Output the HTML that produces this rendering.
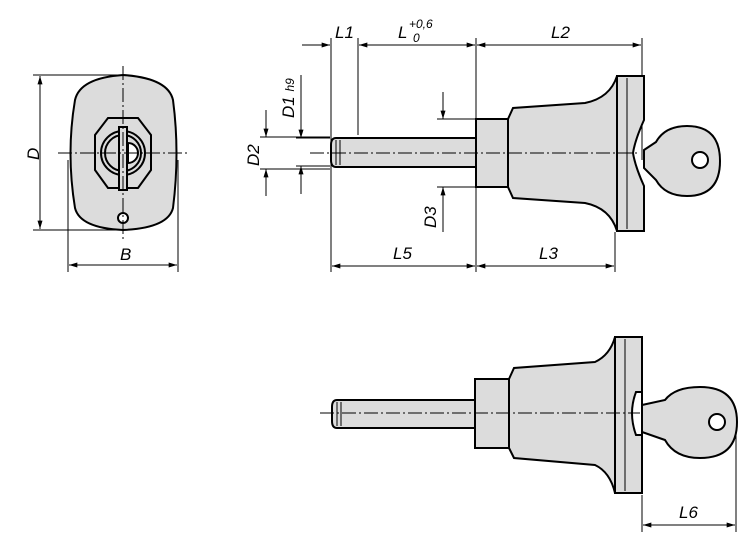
<!DOCTYPE html>
<html><head><meta charset="utf-8"><style>
html,body{margin:0;padding:0;background:#fff;width:750px;height:548px;overflow:hidden}
svg{display:block}
text{font-family:"Liberation Sans",sans-serif;font-style:italic;font-size:17px;fill:#000}
</style></head><body>
<svg width="750" height="548" viewBox="0 0 750 548" xmlns="http://www.w3.org/2000/svg">
<defs>
<marker id="a" viewBox="0 0 10 6" refX="10" refY="3" markerWidth="14" markerHeight="5" markerUnits="userSpaceOnUse" orient="auto-start-reverse"><path d="M0,0L10,3L0,6z" fill="#000"/></marker>
</defs>
<g fill="none" stroke="#000" stroke-width="1">
<!-- left view dims -->
<line x1="33" y1="75" x2="120" y2="75"/><line x1="33" y1="230" x2="120" y2="230"/>
<line x1="40" y1="76" x2="40" y2="229" marker-start="url(#a)" marker-end="url(#a)"/>
<line x1="68" y1="160" x2="68" y2="272"/><line x1="178" y1="160" x2="178" y2="272"/>
<line x1="69" y1="265" x2="177" y2="265" marker-start="url(#a)" marker-end="url(#a)"/>
<!-- top view dims -->
<line x1="331" y1="38" x2="331" y2="272"/><line x1="358" y1="38" x2="358" y2="135"/>
<line x1="476" y1="38" x2="476" y2="272"/><line x1="642" y1="38" x2="642" y2="160"/>
<line x1="302" y1="45" x2="330" y2="45" marker-end="url(#a)"/>
<line x1="359" y1="45" x2="475" y2="45" marker-start="url(#a)" marker-end="url(#a)"/>
<line x1="477" y1="45" x2="641" y2="45" marker-start="url(#a)" marker-end="url(#a)"/>
<line x1="615" y1="232" x2="615" y2="272"/>
<line x1="332" y1="266" x2="475" y2="266" marker-start="url(#a)" marker-end="url(#a)"/>
<line x1="477" y1="266" x2="614" y2="266" marker-start="url(#a)" marker-end="url(#a)"/>
<line x1="260" y1="137" x2="330" y2="137"/><line x1="260" y1="169" x2="330" y2="169"/>
<line x1="296" y1="138" x2="330" y2="138"/><line x1="296" y1="166" x2="330" y2="166"/>
<line x1="266" y1="110" x2="266" y2="137" marker-end="url(#a)"/><line x1="266" y1="196" x2="266" y2="169" marker-end="url(#a)"/>
<line x1="301" y1="75" x2="301" y2="138" marker-end="url(#a)"/><line x1="301" y1="194" x2="301" y2="166" marker-end="url(#a)"/>
<line x1="437" y1="119" x2="476" y2="119"/><line x1="437" y1="187" x2="476" y2="187"/>
<line x1="443" y1="92" x2="443" y2="119" marker-end="url(#a)"/><line x1="443" y1="232" x2="443" y2="187" marker-end="url(#a)"/>
<!-- bottom dims -->
<line x1="642" y1="495" x2="642" y2="532"/><line x1="736" y1="425" x2="736" y2="532"/>
<line x1="643" y1="525" x2="735" y2="525" marker-start="url(#a)" marker-end="url(#a)"/>
</g>
<!-- left view part -->
<g stroke="#000" stroke-width="2" fill="#dcdcdc">
<path d="M75,100 Q80,78 123,75 Q168,78 173,100 Q180,153 173,208 Q168,228 123,230 Q80,228 75,208 Q66,153 75,100z"/>
<path d="M108,118 L138,118 L151,135 L151,170 L138,188 L108,188 L95,170 L95,135z" fill="#dcdcdc"/>
<circle cx="123" cy="153" r="22" fill="none"/><circle cx="123" cy="153" r="18" fill="none"/>
<path d="M128,143 A10,10 0 0 1 128,163z" fill="#fff"/>
<rect x="119" y="127" width="8" height="63" fill="#dcdcdc"/>
<circle cx="123" cy="218" r="5" fill="#fff"/>
</g>
<g stroke="#000" stroke-width="1" stroke-dasharray="14,3,2,3" fill="none">
<line x1="58" y1="153" x2="190" y2="153"/><line x1="123" y1="66" x2="123" y2="240"/>
</g>
<!-- top view part -->
<g stroke="#000" stroke-width="2" fill="#dcdcdc">
<path d="M336,138 L476,138 L476,167 L336,167 Q331,167 331,160 L331,145 Q331,138 336,138z"/>
<rect x="476" y="119" width="32" height="68"/>
<path d="M508,119 L513,108 L585,103 Q610,98 617,76 L617,231 Q610,208 585,203 L513,198 L508,187z"/>
<path d="M617,76 L644,76 L644,120 Q635,140 633,153 Q635,166 644,186 L644,231 L617,231z"/>
<path d="M644,150 L656,142 Q665,126 687,126 Q720,126 720,161 Q720,196 687,196 Q665,196 656,180 L644,168z"/>
<circle cx="700" cy="160" r="8" fill="#fff"/>
</g>
<g stroke="#000" stroke-width="1" fill="none"><line x1="627" y1="78" x2="627" y2="229"/><line x1="336" y1="140" x2="336" y2="165"/><line x1="340" y1="140" x2="340" y2="165"/></g>
<line x1="310" y1="153" x2="640" y2="153" stroke="#000" stroke-width="1" stroke-dasharray="14,3,2,3"/>
<!-- bottom view -->
<g stroke="#000" stroke-width="2" fill="#dcdcdc">
<path d="M337,400 L475,400 L475,428 L337,428 Q332,428 332,421 L332,407 Q332,400 337,400z"/>
<rect x="475" y="379" width="34" height="69"/>
<path d="M509,379 L514,368 L595,362 Q610,355 615,337 L615,493 Q610,472 595,465 L514,458 L509,448z"/>
<path d="M615,337 L642,337 L642,493 L615,493z"/>
<path d="M642,405 L665,400 Q675,387 700,387 Q737,387 737,422 Q737,458 700,458 Q675,458 665,440 L642,432z"/>
<circle cx="717" cy="422" r="8" fill="#fff"/>
<path d="M636,392 Q628,413 636,435 L642,435 L642,392z" fill="#fff"/>
</g>
<g stroke="#000" stroke-width="1" fill="none"><line x1="625" y1="339" x2="625" y2="491"/><line x1="337" y1="402" x2="337" y2="426"/><line x1="341" y1="402" x2="341" y2="426"/></g>
<line x1="320" y1="413" x2="640" y2="413" stroke="#000" stroke-width="1" stroke-dasharray="14,3,2,3"/>
<!-- labels -->
<text x="335" y="38">L1</text>
<text x="398" y="38">L</text><text x="409" y="28" style="font-size:12px">+0,6</text><text x="413" y="42" style="font-size:12px">0</text>
<text x="551" y="38">L2</text>
<text x="393" y="259">L5</text><text x="539" y="259">L3</text>
<text x="120" y="260">B</text>
<text x="679" y="518">L6</text>
<text transform="translate(39,160) rotate(-90)">D</text>
<text transform="translate(259,166) rotate(-90)">D2</text>
<text transform="translate(294,118) rotate(-90)">D1 <tspan style="font-size:12px">h9</tspan></text>
<text transform="translate(436,228) rotate(-90)">D3</text>
</svg>
</body></html>
